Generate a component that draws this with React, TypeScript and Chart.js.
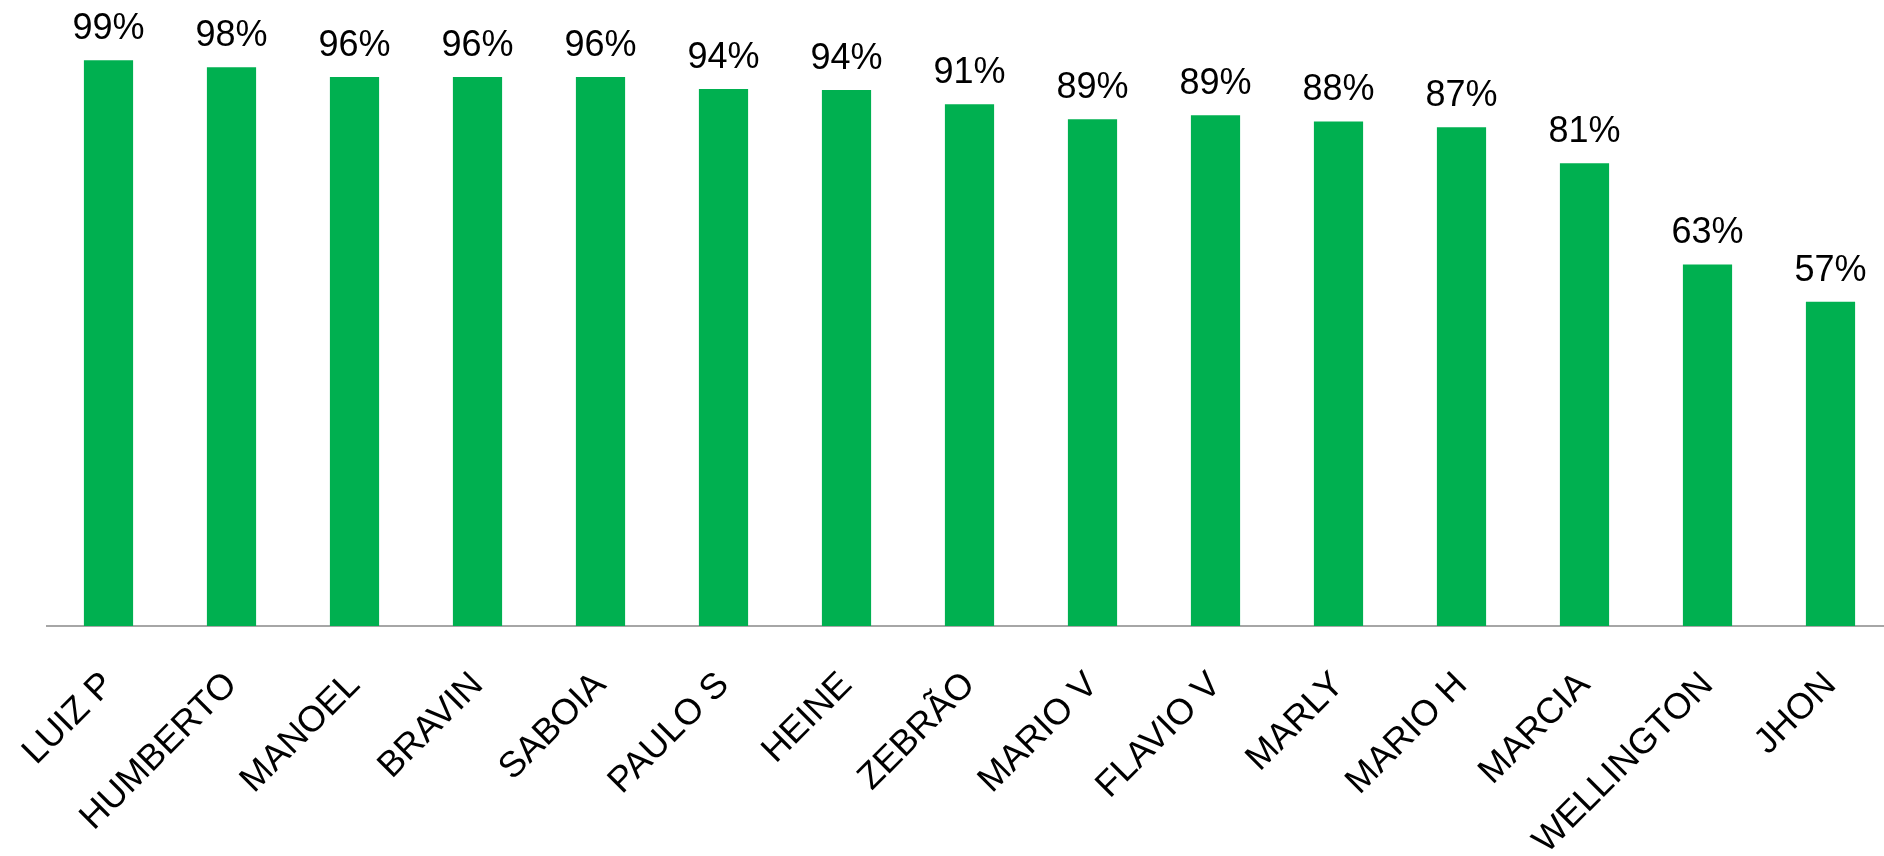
import React, { useEffect, useRef } from 'react';
import { Chart, registerables } from 'chart.js';

Chart.register(...registerables);

const categories = [
  'LUIZ P', 'HUMBERTO', 'MANOEL', 'BRAVIN', 'SABOIA', 'PAULO S', 'HEINE', 'ZEBRÃO',
  'MARIO V', 'FLAVIO V', 'MARLY', 'MARIO H', 'MARCIA', 'WELLINGTON', 'JHON',
];
const values = [98.9, 97.7, 96.0, 96.0, 96.0, 93.9, 93.7, 91.2, 88.6, 89.3, 88.2, 87.2, 80.9, 63.2, 56.7];
const valueLabels = ['99%', '98%', '96%', '96%', '96%', '94%', '94%', '91%', '89%', '89%', '88%', '87%', '81%', '63%', '57%'];

const FONT = '"Liberation Sans", Arial, sans-serif';

const valueLabelPlugin = {
  id: 'valueLabels',
  afterDatasetsDraw(chart: any) {
    const ctx = chart.ctx;
    const meta = chart.getDatasetMeta(0);
    ctx.save();
    ctx.font = `36px ${FONT}`;
    ctx.fillStyle = '#000000';
    ctx.textAlign = 'center';
    ctx.textBaseline = 'alphabetic';
    meta.data.forEach((el: any, i: number) => {
      ctx.fillText(valueLabels[i], el.x, el.y - 21);
    });
    ctx.restore();
  },
};

export default function App() {
  const ref = useRef<HTMLCanvasElement>(null);

  useEffect(() => {
    if (!ref.current) return;
    const chart = new Chart(ref.current, {
      type: 'bar',
      data: {
        labels: categories,
        datasets: [
          {
            data: values,
            backgroundColor: '#00B050',
            borderWidth: 0,
            categoryPercentage: 1,
            barPercentage: 0.4,
          },
        ],
      },
      options: {
        responsive: false,
        animation: false,
        layout: { padding: { left: 47, right: 0, top: 54, bottom: 0 } },
        plugins: {
          legend: { display: false },
          tooltip: { enabled: false },
          title: { display: false },
        },
        scales: {
          x: {
            grid: { display: false, drawTicks: false },
            border: { display: true, color: '#a6a6a6', width: 2 },
            ticks: {
              autoSkip: false,
              minRotation: 45,
              maxRotation: 45,
              padding: 38,
              color: '#000000',
              font: { family: FONT, size: 36 },
            },
            afterFit: (scale: any) => {
              scale.height = 230;
              scale.paddingLeft = 0;
              scale.paddingRight = 0;
            },
          },
          y: {
            display: false,
            min: 0,
            max: 100,
          },
        },
      },
      plugins: [valueLabelPlugin],
    });
    return () => chart.destroy();
  }, []);

  return (
    <div
      style={{
        position: 'absolute',
        left: 0,
        top: 0,
        width: 1884,
        height: 856,
        overflow: 'hidden',
        background: '#ffffff',
      }}
    >
      <canvas ref={ref} width={1892} height={856} style={{ display: 'block' }} />
    </div>
  );
}
